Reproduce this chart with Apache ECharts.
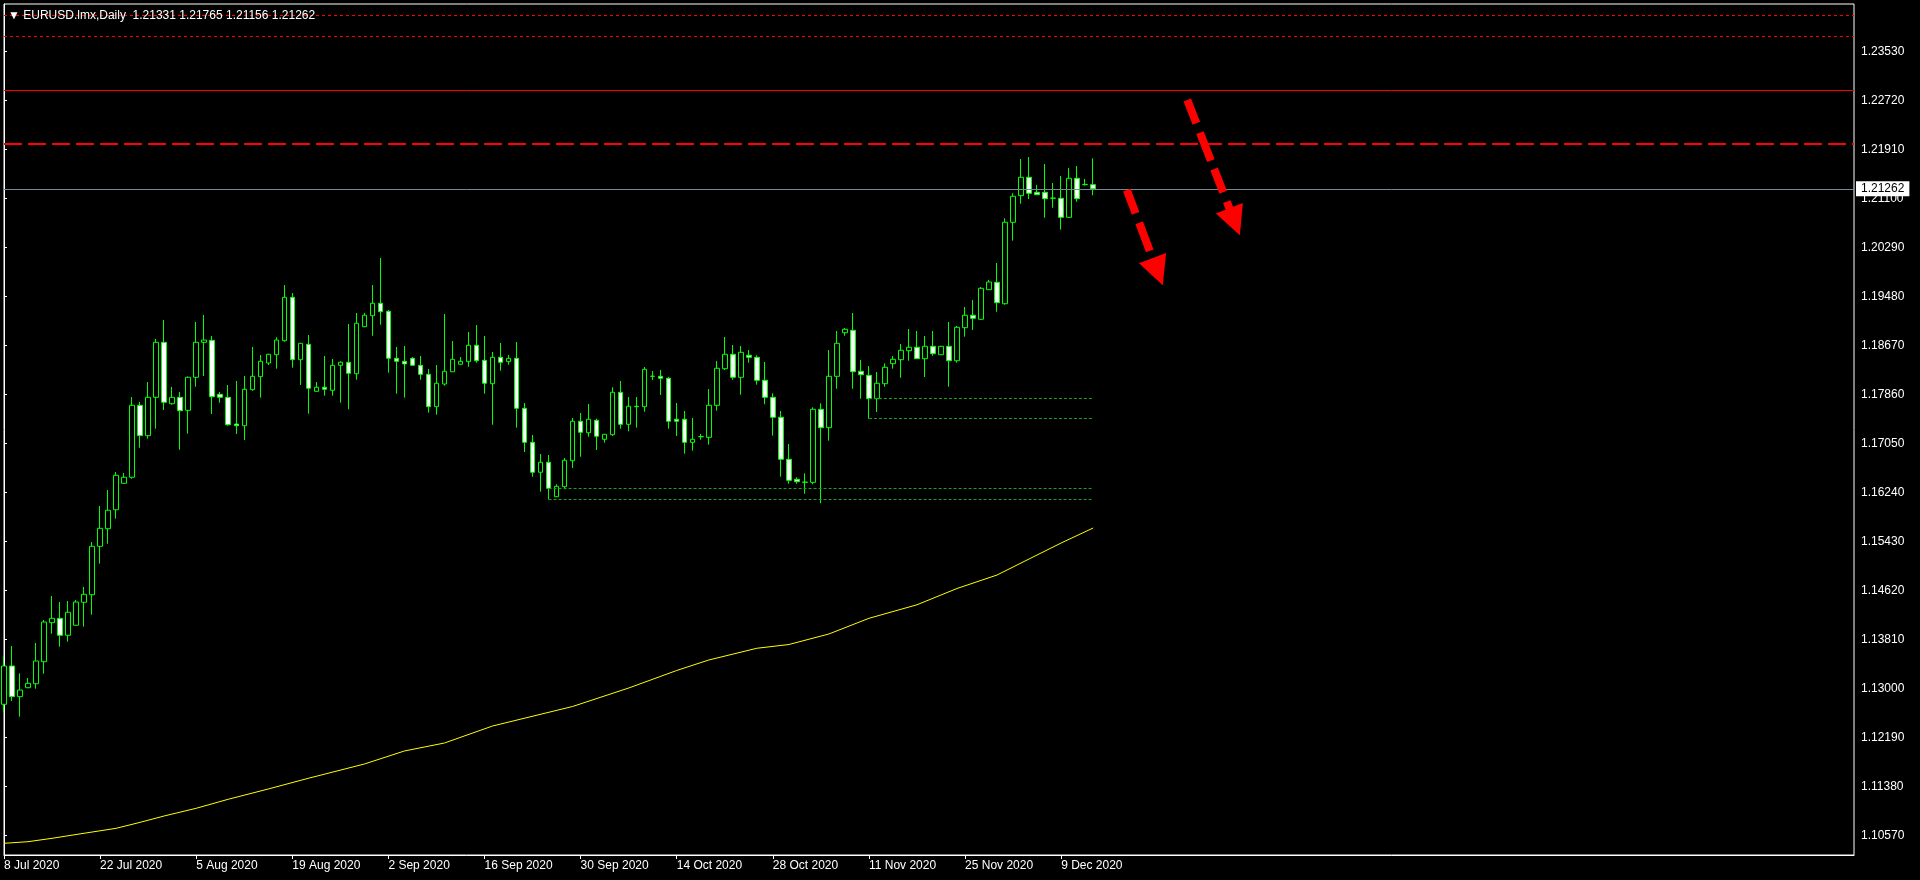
<!DOCTYPE html>
<html>
<head>
<meta charset="utf-8">
<style>
html,body{margin:0;padding:0;background:#000;}
#chart{width:1920px;height:880px;}
</style>
<script src="https://cdn.jsdelivr.net/npm/echarts@6/dist/echarts.min.js"></script>
</head>
<body>
<div id="chart"></div>
<script>
const symbolName = 'EURUSD.lmx';
const timeframe = 'Daily';
const labelStep = 12;
const totalSlots = 232;
const xLabels = ['8 Jul 2020','22 Jul 2020','5 Aug 2020','19 Aug 2020','2 Sep 2020','16 Sep 2020','30 Sep 2020','14 Oct 2020','28 Oct 2020','11 Nov 2020','25 Nov 2020','9 Dec 2020'];
const yTicks = [1.10570,1.11380,1.12190,1.13000,1.13810,1.14620,1.15430,1.16240,1.17050,1.17860,1.18670,1.19480,1.20290,1.21100,1.21910,1.22720,1.23530];
const yMin = 1.10251;
const yMax = 1.24317;

const opens = [
1.12742,1.13375,1.12868,1.13016,1.13082,1.13446,1.14091,1.14163,1.13882,1.14048,
1.14428,1.14553,1.15353,1.15644,1.15958,1.16395,1.16494,1.17684,1.17182,1.17816,
1.18725,1.17710,1.17816,1.17601,1.18147,1.18725,1.18758,1.17866,1.17816,1.17375,
1.17347,1.17942,1.18157,1.18383,1.18520,1.18752,1.19469,1.18438,1.18692,1.17915,
1.17982,1.17932,1.18345,1.18395,1.18206,1.18983,1.19165,1.19370,1.19238,1.18461,
1.18411,1.18461,1.18345,1.18196,1.17661,1.18036,1.18239,1.18362,1.18405,1.18676,
1.18428,1.18041,1.18477,1.18405,1.18461,1.17634,1.17072,1.16577,1.16742,1.16173,
1.16339,1.16768,1.17420,1.17231,1.17436,1.17122,1.17198,1.17899,1.17370,1.17668,
1.17661,1.18163,1.18163,1.18130,1.17453,1.17453,1.17072,1.17165,1.17155,1.17684,
1.18289,1.18527,1.18147,1.18510,1.18477,1.18097,1.17816,1.17486,1.16792,1.16461,
1.16411,1.16411,1.17618,1.17314,1.18163,1.18884,1.18924,1.18246,1.18180,1.17793,
1.18041,1.18372,1.18438,1.18587,1.18643,1.18454,1.18659,1.18520,1.18659,1.18421,
1.18967,1.19172,1.19106,1.19595,1.19717,1.19363,1.20709,1.21149,1.21453,1.21205,
1.21205,1.21106,1.21106,1.20791,1.21436,1.21331,1.21331];
const highs = [
1.13529,1.13706,1.13254,1.13177,1.13755,1.14135,1.14532,1.14433,1.14449,1.14466,
1.14681,1.15425,1.16020,1.16284,1.16582,1.16565,1.17821,1.17739,1.18069,1.18780,
1.19094,1.17987,1.17904,1.18160,1.19061,1.19177,1.18829,1.17904,1.18020,1.18086,
1.18168,1.18648,1.18515,1.18535,1.18808,1.19672,1.19540,1.18715,1.18846,1.18069,
1.18499,1.18449,1.18411,1.19028,1.19210,1.19210,1.19672,1.20119,1.19259,1.18648,
1.18664,1.18482,1.18499,1.18284,1.18350,1.19193,1.18747,1.18482,1.18896,1.19011,
1.18829,1.18565,1.18714,1.18515,1.18730,1.17722,1.17193,1.16879,1.16863,1.16378,
1.16813,1.17474,1.17557,1.17706,1.17463,1.17210,1.17982,1.18086,1.17821,1.17821,
1.18317,1.18251,1.18268,1.18152,1.17722,1.17590,1.17474,1.17210,1.17953,1.18416,
1.18813,1.18681,1.18664,1.18598,1.18510,1.18400,1.17882,1.17590,1.17044,1.16494,
1.16560,1.17651,1.17717,1.18598,1.18912,1.18962,1.19210,1.18433,1.18334,1.18234,
1.18378,1.18499,1.18697,1.18945,1.18912,1.18829,1.18912,1.18665,1.19061,1.18995,
1.19309,1.19425,1.19639,1.19755,1.20036,1.20775,1.21188,1.21755,1.21788,1.21325,
1.21672,1.21358,1.21474,1.21606,1.21639,1.21425,1.21765];
const lows = [
1.12620,1.12796,1.12537,1.13010,1.13000,1.13248,1.13909,1.13694,1.13777,1.14040,
1.14025,1.14223,1.15066,1.15396,1.15810,1.16390,1.16470,1.16983,1.17132,1.17297,
1.17606,1.17694,1.16950,1.17215,1.17991,1.18168,1.17540,1.17727,1.17347,1.17210,
1.17110,1.17925,1.17810,1.18350,1.18289,1.18735,1.18306,1.18020,1.17545,1.17910,
1.17843,1.17843,1.17727,1.17618,1.18107,1.18975,1.18834,1.19016,1.18223,1.17876,
1.17810,1.18340,1.18107,1.17562,1.17529,1.18008,1.18235,1.18355,1.18322,1.18388,
1.17876,1.17363,1.18256,1.18355,1.17314,1.16912,1.16504,1.16256,1.16130,1.16170,
1.16296,1.16648,1.16834,1.17165,1.16945,1.17066,1.17177,1.17297,1.17254,1.17314,
1.17578,1.18102,1.17854,1.17297,1.17177,1.16884,1.16934,1.17115,1.17033,1.17595,
1.18268,1.18107,1.17859,1.18388,1.18025,1.17701,1.17182,1.16504,1.16388,1.16388,
1.16223,1.16378,1.16064,1.17099,1.17958,1.18834,1.17958,1.17793,1.17463,1.17573,
1.17991,1.18289,1.18140,1.18421,1.18450,1.18152,1.18504,1.18515,1.17991,1.18388,
1.18818,1.18929,1.19094,1.19590,1.19231,1.19347,1.20405,1.21016,1.21094,1.21160,
1.20785,1.20950,1.20587,1.20785,1.21049,1.21314,1.21156];
const closes = [
1.13375,1.12868,1.12978,1.13089,1.13458,1.14102,1.14163,1.13882,1.14263,1.14433,
1.14560,1.15353,1.15651,1.15949,1.16527,1.16494,1.17684,1.17182,1.17816,1.18725,
1.17734,1.17816,1.17595,1.18147,1.18725,1.18763,1.17826,1.17816,1.17363,1.17347,
1.17948,1.18163,1.18411,1.18527,1.18763,1.19469,1.18438,1.18709,1.17965,1.17982,
1.17948,1.18345,1.18395,1.18213,1.19039,1.19172,1.19370,1.19231,1.18461,1.18411,
1.18367,1.18345,1.18196,1.17661,1.18048,1.18246,1.18444,1.18411,1.18676,1.18421,
1.18048,1.18477,1.18395,1.18461,1.17634,1.17072,1.16577,1.16742,1.16312,1.16345,
1.16775,1.17420,1.17238,1.17453,1.17172,1.17205,1.17899,1.17370,1.17668,1.17661,
1.18279,1.18165,1.18130,1.17420,1.17420,1.17072,1.17122,1.17168,1.17684,1.18296,
1.18527,1.18147,1.18560,1.18477,1.18097,1.17816,1.17486,1.16792,1.16444,1.16421,
1.16415,1.17618,1.17314,1.18163,1.18709,1.18940,1.18239,1.18190,1.17793,1.18048,
1.18312,1.18444,1.18593,1.18643,1.18454,1.18659,1.18537,1.18659,1.18421,1.18973,
1.19172,1.19122,1.19618,1.19722,1.19380,1.20709,1.21139,1.21453,1.21188,1.21165,
1.21099,1.21110,1.20791,1.21436,1.21099,1.21335,1.21262];

// moving average read at selected bars
const maIdx  = [0,3,6,10,14,17,20,24,28,33,38,45,50,55,61,71,78,84,88,94,98,103,108,114,119,124,128,132,136];
const maVals = [1.10444,1.10471,1.10527,1.10610,1.10692,1.10791,1.10896,1.11023,1.11172,1.11342,1.11519,1.11755,1.11970,1.12102,1.12383,1.12706,1.13011,1.13301,1.13474,1.13668,1.13730,1.13904,1.14163,1.14387,1.14656,1.14879,1.15144,1.15408,1.15656];

// horizontal levels
const redDotted = [1.24135, 1.23788];
const redSolid = [1.22890];
const redDashed = [1.22003];

// green dotted support segments
const supFrom = [68, 68, 108, 108];
const supTo = [136, 136, 136, 136];
const supVal = [1.16312, 1.16130, 1.17800, 1.17469];

// arrows (bar index, price)
const arrFromX = [140.2, 147.75];
const arrFromY = [1.21243, 1.22730];
const arrToX = [144.05, 153.66];
const arrToY = [1.19892, 1.20719];

const last = closes.length - 1;
const categories = Array.from({length: totalSlots}, (_, i) => String(i));
const candleData = opens.map((o, i) => [o, closes[i], lows[i], highs[i]]);
const maData = maIdx.map((x, i) => [x, maVals[i]]);
const FONT = "'Liberation Sans', Arial, sans-serif";
const showLabel = (idx) => idx % labelStep === 0 && idx / labelStep < xLabels.length;

const levelLines = [];
redDotted.forEach(v => levelLines.push({yAxis: v, lineStyle: {color: '#ff0000', type: [3, 3], width: 1}}));
redSolid.forEach(v => levelLines.push({yAxis: v, lineStyle: {color: '#ff0000', type: 'solid', width: 1}}));
redDashed.forEach(v => levelLines.push({yAxis: v, lineStyle: {color: '#ff0000', type: [18, 6], width: 2}}));
levelLines.push({
  yAxis: closes[last],
  lineStyle: {color: '#778899', type: 'solid', width: 1},
  label: {show: true, position: 'end', distance: 2, formatter: closes[last].toFixed(5),
    backgroundColor: '#ffffff', color: '#000000', padding: [2, 5, 1, 5], fontSize: 12, fontFamily: FONT}
});

const segLines = [];
supVal.forEach((v, i) => segLines.push([
  {coord: [supFrom[i], v], lineStyle: {color: '#1f9d1f', type: [3, 2], width: 1}},
  {coord: [supTo[i], v]}
]));
arrFromX.forEach((x, i) => segLines.push([
  {coord: [x, arrFromY[i]], symbol: 'none', lineStyle: {color: '#ff0000', type: [25, 10, 30, 9], width: 8}},
  {coord: [arrToX[i], arrToY[i]], symbol: 'triangle', symbolSize: [29, 29]}
]));

const option = {
  animation: false,
  backgroundColor: '#000000',
  title: {
    text: '\u25BC ' + symbolName + ',' + timeframe + '  ' +
      [opens[last], highs[last], lows[last], closes[last]].map(v => v.toFixed(5)).join(' '),
    left: 3, top: 5,
    textStyle: {color: '#ffffff', fontSize: 12, fontWeight: 'normal', fontFamily: FONT}
  },
  grid: {left: 4, right: 66, top: 4, bottom: 25, show: true, borderColor: '#ffffff', borderWidth: 1,
    backgroundColor: '#000000', containLabel: false, outerBoundsMode: 'none'},
  xAxis: [{
    type: 'category', data: categories, boundaryGap: false,
    axisLine: {show: true, lineStyle: {color: '#ffffff'}},
    axisTick: {show: true, interval: (i) => showLabel(i), length: 4, lineStyle: {color: '#ffffff'}},
    axisLabel: {interval: (i) => showLabel(i), formatter: (v, i) => xLabels[i / labelStep] || '',
      align: 'left', color: '#ffffff', fontSize: 12, fontFamily: FONT, margin: 5},
    splitLine: {show: false}
  }, {
    type: 'value', min: 0, max: totalSlots - 1, show: false
  }],
  yAxis: {
    type: 'value', position: 'right', min: yMin, max: yMax, scale: true,
    axisLine: {show: true, lineStyle: {color: '#ffffff'}},
    axisTick: {show: true, customValues: yTicks, length: 3, lineStyle: {color: '#ffffff'}},
    axisLabel: {customValues: yTicks, formatter: v => v.toFixed(5), color: '#ffffff', fontSize: 12, fontFamily: FONT, margin: 7},
    splitLine: {show: false}
  },
  series: [{
    type: 'candlestick',
    xAxisIndex: 0, yAxisIndex: 0,
    data: candleData,
    barWidth: 5,
    itemStyle: {color: '#000000', color0: '#ffffff', borderColor: '#00ff00', borderColor0: '#00ff00', borderColorDoji: '#00ff00', borderWidth: 1},
    markLine: {silent: true, symbol: 'none', precision: 5, animation: false, label: {show: false}, emphasis: {disabled: true}, data: levelLines}
  }, {
    type: 'line',
    xAxisIndex: 1, yAxisIndex: 0,
    data: maData,
    showSymbol: false, symbol: 'none',
    lineStyle: {color: '#ffff00', width: 1},
    itemStyle: {color: '#ffff00'},
    markLine: {silent: true, symbol: 'none', precision: 5, animation: false, label: {show: false}, emphasis: {disabled: true},
      itemStyle: {color: '#ff0000'}, data: segLines}
  }]
};

const chart = echarts.init(document.getElementById('chart'), null, {renderer: 'canvas'});
chart.setOption(option);
</script>
</body>
</html>
